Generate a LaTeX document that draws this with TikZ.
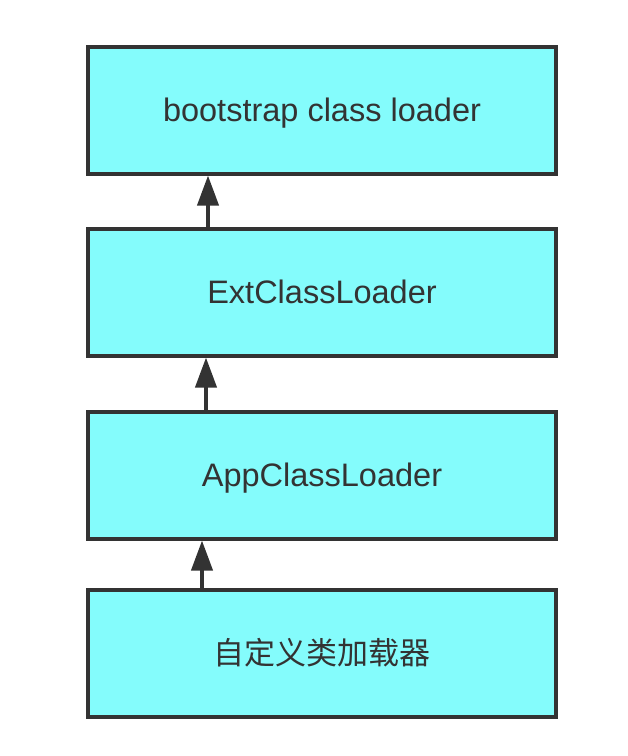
\documentclass[tikz,border=0pt]{standalone}
\usepackage{fontspec}
\setmainfont{Liberation Sans}
\newfontfamily\cjk{Noto Sans CJK SC}
\usetikzlibrary{arrows.meta}
\definecolor{boxfill}{RGB}{132,252,252}
\definecolor{ink}{RGB}{51,51,51}
\tikzset{
  loaderbox/.style={draw=ink, fill=boxfill, line width=4pt, minimum width=468pt, minimum height=127pt, inner sep=0pt, text=ink, text height=23pt, text depth=0pt, font=\fontsize{32.5}{36}\selectfont},
  uparrow/.style={draw=ink, line width=4pt, -{Triangle[length=30pt,width=21pt]}}
}
\begin{document}
\begin{tikzpicture}[x=1pt,y=-1pt]
\useasboundingbox (0,0) rectangle (628,756);
\node[loaderbox] (b1) at (322,110) {bootstrap class loader};
\node[loaderbox] (b2) at (322,292) {ExtClassLoader};
\node[loaderbox] (b3) at (322,475) {AppClassLoader};
\node[loaderbox] (b4) at (322,653) {\cjk\fontsize{31}{36}\selectfont 自定义类加载器};
\coordinate (x1) at (208,0);
\coordinate (x2) at (206,0);
\coordinate (x3) at (202,0);
\draw[uparrow] (b2.north -| x1) -- (b1.south -| x1);
\draw[uparrow] (b3.north -| x2) -- (b2.south -| x2);
\draw[uparrow] (b4.north -| x3) -- (b3.south -| x3);
\end{tikzpicture}
\end{document}
